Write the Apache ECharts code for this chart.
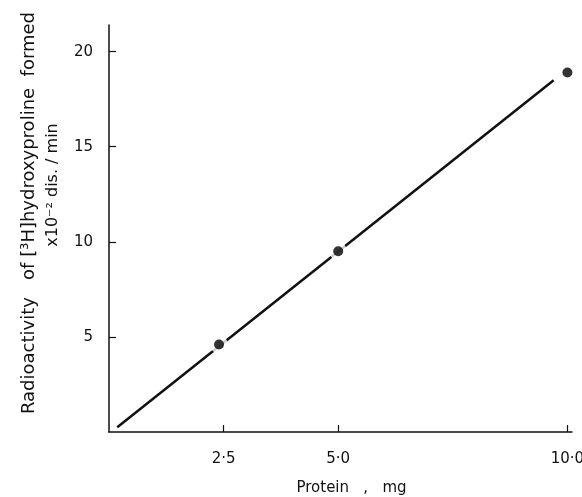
<!DOCTYPE html>
<html>
<head>
<meta charset="utf-8">
<script src="https://cdn.jsdelivr.net/npm/echarts@6/dist/echarts.min.js"></script>
<style>
  html, body { margin: 0; padding: 0; background: #fff; }
  #chart { width: 582px; height: 497px; }
</style>
</head>
<body>
<div id="chart"></div>
<script>
  // measured points (protein mg, radioactivity x10^-2 dis/min)
  var protein = [2.4, 5.0, 10.0];
  var activity = [4.6, 9.5, 18.9];

  // fitted line end points
  var fitX = [0.18, 9.7];
  var fitY = [0.25, 18.5];

  var xTicks = [2.5, 5, 10];
  var xTickLabels = ['2·5', '5·0', '10·0'];

  var font = 'DejaVu Sans';

  var points = protein.map(function(x, i) { return [x, activity[i]]; });

  var chart = echarts.init(document.getElementById('chart'));

  chart.setOption({
    animation: false,
    backgroundColor: '#fff',
    grid: { left: 109, right: 10, top: 25, bottom: 65, outerBoundsMode: 'none' },
    xAxis: {
      type: 'value',
      min: 0,
      max: 10.1,
      splitLine: { show: false },
      axisLine: { lineStyle: { color: '#111', width: 1.5 } },
      axisTick: { length: -7, customValues: xTicks, lineStyle: { color: '#111', width: 1.2 } },
      axisLabel: {
        customValues: xTicks,
        color: '#111',
        fontFamily: font,
        fontSize: 15,
        margin: 20,
        formatter: function(v) {
          return xTickLabels[xTicks.indexOf(v)];
        }
      },
      name: 'Protein   ,   mg',
      nameLocation: 'middle',
      nameGap: 49,
      nameTextStyle: { color: '#111', fontFamily: font, fontSize: 15, padding: [0, 0, 0, 22] }
    },
    yAxis: {
      type: 'value',
      min: 0,
      max: 21.4,
      interval: 5,
      splitLine: { show: false },
      axisLine: { lineStyle: { color: '#111', width: 1.5 } },
      axisTick: { length: -7, lineStyle: { color: '#111', width: 1.2 } },
      axisLabel: {
        showMinLabel: false,
        showMaxLabel: false,
        color: '#111',
        fontFamily: font,
        fontSize: 15,
        margin: 16
      }
    },
    graphic: [
      {
        type: 'text',
        x: 29, y: 213,
        rotation: Math.PI / 2,
        style: {
          text: 'Radioactivity   of [³H]hydroxyproline  formed',
          fill: '#111',
          font: '18px ' + font,
          align: 'center',
          verticalAlign: 'middle'
        }
      },
      {
        type: 'text',
        x: 53, y: 185,
        rotation: Math.PI / 2,
        style: {
          text: 'x10⁻² dis. / min',
          fill: '#111',
          font: '16px ' + font,
          align: 'center',
          verticalAlign: 'middle'
        }
      }
    ],
    series: [
      {
        type: 'line',
        data: fitX.map(function(x, i) { return [x, fitY[i]]; }),
        symbol: 'none',
        lineStyle: { color: '#111', width: 2.5 },
        z: 2
      },
      {
        // white halo that breaks the line around each point
        type: 'scatter',
        data: points,
        symbolSize: 18,
        itemStyle: { color: '#fff' },
        z: 3
      },
      {
        type: 'scatter',
        data: points,
        symbolSize: 10,
        itemStyle: { color: '#000' },
        z: 4
      }
    ]
  });
</script>
</body>
</html>
